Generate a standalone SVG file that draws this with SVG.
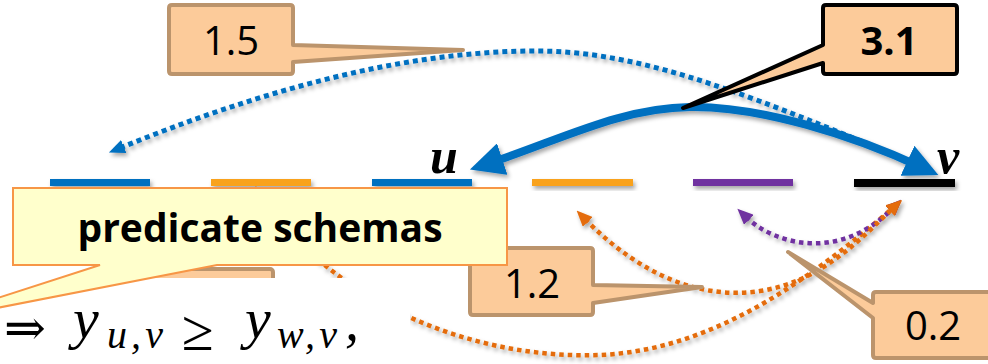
<svg xmlns="http://www.w3.org/2000/svg" width="988" height="364" viewBox="0 0 988 364">
<defs>
<style>
.dash{stroke:none}
.dot{fill:none;stroke-width:4.5;stroke-dasharray:4.5 4}
.peach{fill:#FCCB9A;stroke:#BB946C;stroke-width:4;stroke-linejoin:round}
.num{font-family:"Open Sans","Liberation Sans",sans-serif;font-size:40px;fill:#000;text-anchor:middle}
.lab{font-family:"Liberation Serif",serif;font-style:italic;font-weight:bold;font-size:50px;fill:#000}
.mi{font-family:"Liberation Serif",serif;font-style:italic;fill:#000}
</style>
<filter id="sh" x="-20%" y="-20%" width="140%" height="160%">
<feDropShadow dx="2" dy="3" stdDeviation="2" flood-color="#000" flood-opacity="0.35"/>
</filter>
<marker id="bigBlue" markerUnits="userSpaceOnUse" markerWidth="34" markerHeight="33" viewBox="0 0 34 33" refX="16" refY="16.5" orient="auto-start-reverse">
<path d="M0 0 L34 16.5 L0 33 Z" fill="#0070C0"/>
</marker>
<marker id="smBlue" markerUnits="userSpaceOnUse" markerWidth="16" markerHeight="14" viewBox="0 0 16 14" refX="4" refY="7" orient="auto-start-reverse">
<path d="M0 0 L16 7 L0 14 Z" fill="#0070C0"/>
</marker>
<marker id="smOrange" markerUnits="userSpaceOnUse" markerWidth="16" markerHeight="14" viewBox="0 0 16 14" refX="4" refY="7" orient="auto-start-reverse">
<path d="M0 0 L16 7 L0 14 Z" fill="#E46C0A"/>
</marker>
<marker id="smPurple" markerUnits="userSpaceOnUse" markerWidth="16" markerHeight="14" viewBox="0 0 16 14" refX="4" refY="7" orient="auto-start-reverse">
<path d="M0 0 L16 7 L0 14 Z" fill="#7030A0"/>
</marker>
</defs>
<rect width="988" height="364" fill="#fff"/>

<g id="dashes" filter="url(#sh)">
<rect id="d1" x="50" y="179" width="100" height="7" fill="#0070C0"/>
<rect id="d2" x="211" y="179" width="100" height="7" fill="#F9A21C"/>
<rect id="d3" x="372" y="179" width="100" height="7" fill="#0070C0"/>
<rect id="d4" x="532" y="179" width="101" height="7" fill="#F9A21C"/>
<rect id="d5" x="693" y="179" width="100" height="7" fill="#7030A0"/>
<rect id="d6" x="854" y="179" width="101" height="8" fill="#000"/>
</g>

<g id="connectors" filter="url(#sh)">
<path class="dot" stroke="#0070C0" style="stroke-width:5;stroke-dasharray:5 4" d="M120 148 C250 95 400 50 540 51 C650 52 760 100 922 166" marker-start="url(#smBlue)"/>
<path fill="none" stroke="#0070C0" stroke-width="8" d="M487 164 C560 140 620 108 690 107 S852 135 922 167.5" marker-start="url(#bigBlue)" marker-end="url(#bigBlue)"/>
<path class="dot" stroke="#E46C0A" d="M262 196 C330 300 470 360 600 355 C720 350 820 270 893 208" marker-start="url(#smOrange)" marker-end="url(#smOrange)"/>
<path class="dot" stroke="#7030A0" d="M746 217 C775 245 840 262 893 208" marker-start="url(#smPurple)" marker-end="url(#smPurple)"/>
<path class="dot" stroke="#E46C0A" d="M585 219 C640 275 700 300 760 291 C820 282 860 240 893 208" marker-start="url(#smOrange)" marker-end="url(#smOrange)"/>
</g>

<g id="label-u"><text class="lab" x="430" y="173">u</text></g>
<g id="label-v"><text class="lab" x="937" y="173">v</text></g>

<g id="hidden-box"><rect class="peach" x="150" y="269" width="123" height="40" rx="3"/></g>

<g id="formula">
<rect x="0" y="278" width="410" height="86" fill="#fff"/>
<text x="4" y="345" font-family="DejaVu Serif,serif" font-size="50" fill="#000">⇒</text>
<text class="mi" x="73" y="338" font-size="58">y</text>
<text class="mi" x="107" y="348" font-size="40" textLength="56" lengthAdjust="spacing">u,v</text>
<text x="182" y="350" font-family="Liberation Serif,serif" font-size="58" fill="#000">≥</text>
<text class="mi" x="245" y="338" font-size="58">y</text>
<text class="mi" x="277" y="348" font-size="40" textLength="60" lengthAdjust="spacing">w,v</text>
<text class="mi" x="345" y="340" font-size="56">,</text>
</g>

<g id="callout-1.5">
<path class="peach" d="M172 5 H290 Q293 5 293 8 V45 L463 50 L293 62 V71 Q293 74 290 74 H172 Q169 74 169 71 V8 Q169 5 172 5 Z"/>
<text class="num" x="231" y="55">1.5</text>
</g>

<g id="callout-3.1">
<path d="M826 5 H954 Q957 5 957 8 V71 Q957 74 954 74 H826 Q823 74 823 71 V63 L683 108 L823 45 V8 Q823 5 826 5 Z" fill="#FCCB9A" stroke="#000" stroke-width="4" stroke-linejoin="round"/>
<text class="num" x="889" y="55" font-weight="bold" font-size="41">3.1</text>
</g>

<g id="callout-1.2">
<path class="peach" d="M473 248 H590 Q593 248 593 251 V285 L702 287 L593 303 V312 Q593 315 590 315 H473 Q470 315 470 312 V251 Q470 248 473 248 Z"/>
<text class="num" x="532" y="298">1.2</text>
</g>

<g id="callout-0.2">
<path class="peach" d="M876 292 H1000 V358 H876 Q873 358 873 355 V318 L788 252 L873 303 V295 Q873 292 876 292 Z"/>
<text class="num" x="933" y="340">0.2</text>
</g>

<g id="callout-predicate">
<path d="M13 188 H507 V265 H217 L-80 323 L100 265 H13 Z" fill="#FFFFCC" stroke="#F79646" stroke-width="2"/>
<text x="260" y="242" font-family="Open Sans,Liberation Sans,sans-serif" font-weight="bold" font-size="39" text-anchor="middle" fill="#000">predicate schemas</text>
</g>
</svg>
